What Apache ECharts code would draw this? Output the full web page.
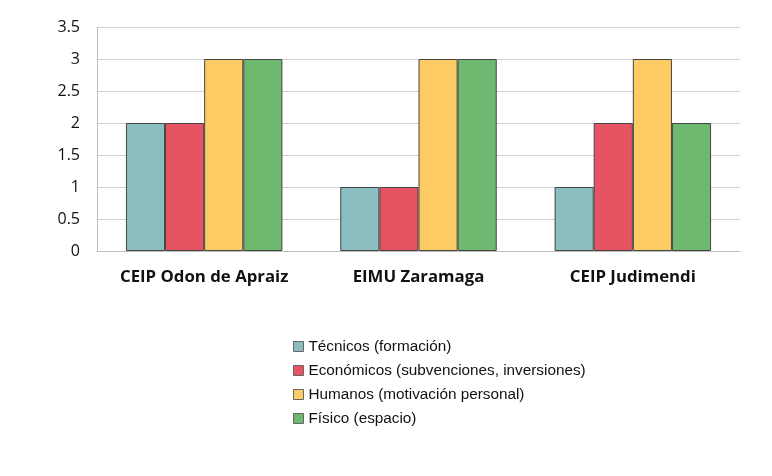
<!DOCTYPE html>
<html><head><meta charset="utf-8">
<script src="https://cdn.jsdelivr.net/npm/echarts@6/dist/echarts.min.js"></script>
<style>html,body{margin:0;padding:0;background:#fff}#c{width:772px;height:476px}</style>
</head><body><div id="c"></div>
<script>
const categories = ['CEIP Odon de Apraiz', 'EIMU Zaramaga', 'CEIP Judimendi'];
const seriesNames = ['Técnicos (formación)', 'Económicos (subvenciones, inversiones)', 'Humanos (motivación personal)', 'Físico (espacio)'];
const tecnicos = [2, 1, 1];
const economicos = [2, 1, 2];
const humanos = [3, 3, 3];
const fisico = [3, 3, 2];
const colors = ['#8CBDC1', '#E65363', '#FCCB64', '#6DB96F'];
const values = [tecnicos, economicos, humanos, fisico];

const chart = echarts.init(document.getElementById('c'));
chart.setOption({
  animation: false,
  grid: { left: 97, right: 32, top: 27, bottom: 225, containLabel: false },
  legend: {
    orient: 'vertical', left: 293, top: 339, padding: 0,
    itemWidth: 10, itemHeight: 10, itemGap: 9.0,
    icon: 'rect',
    textStyle: { fontFamily: 'Liberation Sans', fontSize: 15.3, color: '#111', lineHeight: 14 },
    data: seriesNames.map((n, i) => ({ name: n, itemStyle: { color: colors[i], borderColor: '#666', borderWidth: 1 } }))
  },
  xAxis: {
    type: 'category', data: categories,
    axisLine: { show: true, lineStyle: { color: '#BFBFBF', width: 1 } },
    axisTick: { show: false },
    axisLabel: { interval: 0, fontFamily: 'Open Sans', fontWeight: 'bold', fontSize: 16.8, color: '#111', margin: 18 }
  },
  yAxis: {
    type: 'value', min: 0, max: 3.5, interval: 0.5,
    axisLine: { show: true, lineStyle: { color: '#BFBFBF', width: 1 } },
    axisTick: { show: false },
    splitLine: { lineStyle: { color: '#D0D0D0', width: 1 } },
    axisLabel: { fontFamily: 'Open Sans', fontSize: 16, color: '#111', margin: 17 }
  },
  series: seriesNames.map((n, i) => ({
    name: n, type: 'bar', data: values[i],
    barGap: '0%', barCategoryGap: '27%',
    itemStyle: { color: colors[i], borderColor: '#444', borderWidth: 1 }
  }))
});
</script></body></html>
